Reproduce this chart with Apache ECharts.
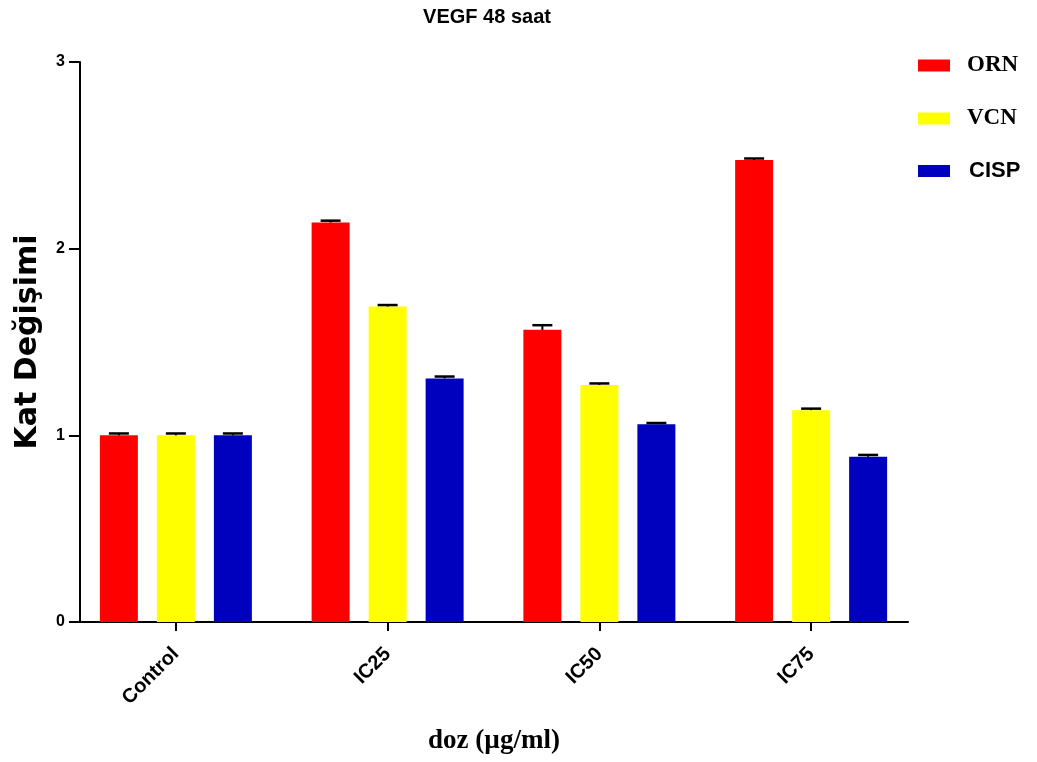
<!DOCTYPE html>
<html>
<head>
<meta charset="utf-8">
<script src="https://cdn.jsdelivr.net/npm/echarts@6/dist/echarts.min.js"></script>
<style>
  html, body { margin: 0; padding: 0; background: #fff; }
  #chart { width: 1037px; height: 762px; }
</style>
</head>
<body>
<div id="chart"></div>
<script>
// VEGF fold change after 48 h, by dose group
const categories = ['Control', 'IC25', 'IC50', 'IC75'];
const seriesNames = ['ORN', 'VCN', 'CISP'];
const ornValues  = [1.00, 2.14, 1.565, 2.475];
const vcnValues  = [1.00, 1.69, 1.27, 1.135];
const cispValues = [1.00, 1.305, 1.06, 0.885];
const ornErr  = [0.01, 0.01, 0.025, 0.008];
const vcnErr  = [0.01, 0.008, 0.008, 0.008];
const cispErr = [0.01, 0.01, 0.006, 0.01];
const yTicks = [0, 1, 2, 3];

const colors = ['#ff0000', '#ffff00', '#0000bf'];
const BAR_W = 38;
const BAR_GAP = 19;
const SANS = 'Liberation Sans, Arial, sans-serif';
const SERIF = 'Liberation Serif, Times New Roman, serif';

const chart = echarts.init(document.getElementById('chart'), null, { renderer: 'canvas' });

function barSeries(name, values, color) {
  return {
    name: name,
    type: 'bar',
    xAxisIndex: 0,
    yAxisIndex: 0,
    barWidth: BAR_W,
    barGap: (BAR_GAP / BAR_W * 100) + '%',
    itemStyle: { color: color },
    data: values,
    z: 2
  };
}

// Upward error bar (stem + cap) drawn at each bar's slot within the group
function errorSeries(name, values, errs, slot) {
  const offset = (slot - 1) * (BAR_W + BAR_GAP);
  return {
    name: name + ' SEM',
    type: 'custom',
    xAxisIndex: 0,
    yAxisIndex: 0,
    z: 5,
    silent: true,
    encode: { x: 0, y: 1 },
    data: values.map((v, i) => [i, v, errs[i]]),
    renderItem: function (params, api) {
      const ci = api.value(0);
      const v = api.value(1);
      const e = api.value(2);
      const base = api.coord([ci, v]);
      const top = api.coord([ci, v + e]);
      const x = base[0] + offset;
      return {
        type: 'group',
        children: [
          { type: 'line', shape: { x1: x, y1: base[1], x2: x, y2: top[1] },
            style: { stroke: '#000', lineWidth: 2 } },
          { type: 'line', shape: { x1: x - 10, y1: top[1], x2: x + 10, y2: top[1] },
            style: { stroke: '#000', lineWidth: 2.5 } }
        ]
      };
    }
  };
}

const option = {
  backgroundColor: '#fff',
  animation: false,
  title: {
    text: 'VEGF 48 saat',
    left: 482,
    top: 2,
    textAlign: 'center',
    textStyle: { fontFamily: SANS, fontWeight: 'bold', fontSize: 20, color: '#000' }
  },
  legend: {
    orient: 'vertical',
    left: 918,
    top: 54,
    padding: 0,
    itemWidth: 32,
    itemHeight: 12,
    itemGap: 30,
    icon: 'rect',
    data: [
      { name: 'ORN', textStyle: { fontFamily: SERIF, fontWeight: 'bold', fontSize: 23, color: '#000', padding: [0, 0, 0, 12] } },
      { name: 'VCN', textStyle: { fontFamily: SERIF, fontWeight: 'bold', fontSize: 23, color: '#000', padding: [0, 0, 0, 12] } },
      { name: 'CISP', textStyle: { fontFamily: SANS, fontWeight: 'bold', fontSize: 22, color: '#000', padding: [0, 0, 0, 14] } }
    ]
  },
  grid: [
    // bar area
    { left: 70, right: 120, top: 62, bottom: 140 },
    // frame carrying the visible axes
    { left: 80, right: 129, top: 62, bottom: 140 }
  ],
  xAxis: [
    {
      type: 'category',
      gridIndex: 0,
      data: categories,
      boundaryGap: true,
      axisLine: { show: false },
      axisTick: { show: true, alignWithLabel: true, length: 9, lineStyle: { color: '#000', width: 2 } },
      axisLabel: {
        rotate: 45,
        margin: 29,
        color: '#000',
        fontFamily: SANS,
        fontWeight: 'bold',
        fontSize: 20
      },
      splitLine: { show: false }
    },
    {
      type: 'value',
      gridIndex: 1,
      min: 0,
      max: 1,
      axisLine: { show: true, lineStyle: { color: '#000', width: 2 } },
      axisTick: { show: false },
      axisLabel: { show: false },
      splitLine: { show: false },
      name: 'doz (µg/ml)',
      nameLocation: 'middle',
      nameGap: 106,
      nameTextStyle: { fontFamily: SERIF, fontWeight: 'bold', fontSize: 27, color: '#000' }
    }
  ],
  yAxis: [
    {
      type: 'value',
      gridIndex: 0,
      min: 0,
      max: 3,
      interval: 1,
      show: false
    },
    {
      type: 'value',
      gridIndex: 1,
      min: yTicks[0],
      max: yTicks[yTicks.length - 1],
      interval: 1,
      axisLine: { show: true, lineStyle: { color: '#000', width: 2 } },
      axisTick: { show: true, length: 11, lineStyle: { color: '#000', width: 2 } },
      axisLabel: {
        margin: 15,
        color: '#000',
        fontFamily: SANS,
        fontWeight: 'bold',
        fontSize: 16,
        formatter: v => String(v)
      },
      splitLine: { show: false },
      name: 'Kat Değişimi',
      nameLocation: 'middle',
      nameGap: 37,
      nameRotate: 90,
      nameTextStyle: { fontFamily: 'DejaVu Sans, sans-serif', fontWeight: 'bold', fontSize: 30, color: '#000' }
    }
  ],
  series: [
    barSeries(seriesNames[0], ornValues, colors[0]),
    barSeries(seriesNames[1], vcnValues, colors[1]),
    barSeries(seriesNames[2], cispValues, colors[2]),
    errorSeries(seriesNames[0], ornValues, ornErr, 0),
    errorSeries(seriesNames[1], vcnValues, vcnErr, 1),
    errorSeries(seriesNames[2], cispValues, cispErr, 2)
  ]
};

chart.setOption(option);
</script>
</body>
</html>
